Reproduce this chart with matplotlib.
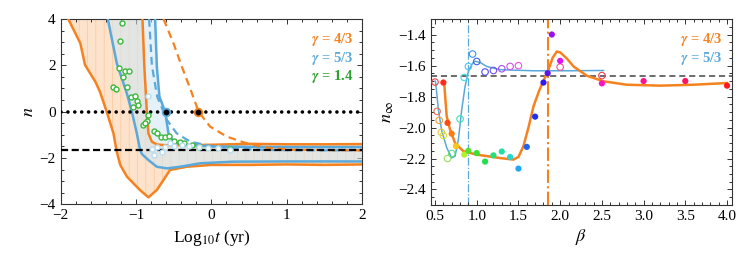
import matplotlib
matplotlib.use("Agg")
import matplotlib.pyplot as plt
import numpy as np
from matplotlib.ticker import MultipleLocator

plt.rcParams['font.family'] = 'serif'
plt.rcParams['font.serif'] = ['Liberation Serif', 'DejaVu Serif']
plt.rcParams['mathtext.fontset'] = 'stix'
plt.rcParams['hatch.linewidth'] = 0.45

ORANGE = '#f5821f'
BLUE = '#5aa9da'
GREEN = '#2ca02c'

# ---------------- left panel data: n vs log10 t ----------------
ora_lo_x = [-1.90, -1.74, -1.677, -1.54, -1.48, -1.39, -1.30, -1.256, -1.21, -1.12, -0.95, -0.836, -0.724, -0.636, -0.55, -0.33, 0.0, 0.5, 1.0, 1.5, 2.0]
ora_lo_y = [4.0, 2.95, 2.01, 1.29, 0.86, 0.0, -0.94, -1.73, -2.30, -2.81, -3.38, -3.70, -3.38, -2.95, -2.52, -2.38, -2.30, -2.30, -2.28, -2.30, -2.28]
ora_up_x = [-0.915, -0.89, -0.857, -0.836, -0.79, -0.72, -0.60, -0.30, 0.0, 0.5, 1.0, 1.5, 2.0]
ora_up_y = [4.0, 1.94, 0.0, -0.94, -1.30, -1.42, -1.45, -1.44, -1.43, -1.39, -1.41, -1.41, -1.40]

blue_lo_x = [-1.375, -1.256, -1.123, -1.056, -0.99, -0.946, -0.923, -0.836, -0.724, -0.59, -0.415, -0.15, 0.29, 1.0, 2.0]
blue_lo_y = [4.0, 2.09, 0.79, 0.0, -0.94, -1.66, -1.83, -2.09, -2.38, -2.45, -2.38, -2.23, -2.16, -2.15, -2.15]
blue_up_x = [-0.747, -0.724, -0.69, -0.614, -0.57, -0.50, -0.34, 0.0, 0.5, 1.0, 2.0]
blue_up_y = [4.0, 1.94, 0.65, 0.0, -0.94, -1.30, -1.44, -1.50, -1.52, -1.53, -1.53]

blue_dash_x = [-0.827, -0.79, -0.72, -0.59, -0.46, -0.28, 0.03, 0.515, 0.85, 1.3, 2.0]
blue_dash_y = [4.0, 2.0, 0.65, -0.36, -0.94, -1.30, -1.51, -1.63, -1.66, -1.67, -1.67]
ora_dash_x = [-0.636, -0.503, -0.392, -0.282, -0.17, -0.016, 0.206, 0.47, 0.74, 1.05, 1.5, 2.0]
ora_dash_y = [4.0, 2.95, 1.94, 1.0, 0.0, -0.65, -1.08, -1.37, -1.56, -1.64, -1.66, -1.67]

green_t = [-1.19, -1.21, -1.23, -1.15, -1.09, -1.17, -1.115, -1.31, -1.27, -1.066, -1.01, -0.99, -1.035,
           -0.97, -0.84, -0.857, -0.91, -0.88, -0.76, -0.72, -0.67, -0.61, -0.557, -0.50, -0.42, -0.36,
           -0.26, -0.158, 0.25]
green_n = [3.81, 3.05, 1.87, 1.77, 1.77, 1.48, 1.08, 1.05, 0.99, 0.62, 0.69, 0.46, 0.19,
           0.29, -0.14, -0.39, -0.58, -0.49, -0.84, -0.91, -1.09, -1.09, -1.05, -1.25, -1.32, -1.37,
           -1.45, -1.51, -1.60]
white_t = [-0.836, -0.79, -0.76, -0.725, -0.66, -0.61, -0.55, -0.49, -0.39, -0.30, -0.16, -0.04, 0.094, 0.25]
white_n = [0.69, -1.60, -1.86, -1.51, -1.73, -1.51, -1.37, -1.47, -1.42, -1.48, -1.51, -1.56, -1.56, -1.66]

crit_t = [-0.60, -0.18]
crit_ring = [BLUE, ORANGE]

# ---------------- right panel data: n_inf vs beta ----------------
beta43 = [0.6, 0.65, 0.7, 0.75, 0.85, 0.9, 1.0, 1.1, 1.2, 1.3, 1.4, 1.5, 1.6, 1.7, 1.8, 1.85, 1.9, 2.0, 2.5, 3.0, 3.5, 4.0]
ninf43 = [-1.71, -1.97, -2.04, -2.12, -2.175, -2.15, -2.165, -2.22, -2.18, -2.155, -2.19, -2.265, -2.125, -1.93, -1.71, -1.65, -1.40, -1.57, -1.715, -1.70, -1.70, -1.73]
col43 = ['#ff2a1a', '#ff4a12', '#ff7a12', '#ffc814', '#b8ee30', '#58e030', '#38e038', '#22e04a', '#22e07a', '#22e0a0',
         '#22d8d0', '#22a8f0', '#2262f0', '#2030f0', '#3018f0', '#5a14f0', '#9a12f0', '#e012f0', '#ff12c0', '#ff1290',
         '#ff1262', '#ff1820']

beta53 = [0.5, 0.525, 0.55, 0.575, 0.6, 0.65, 0.7, 0.8, 0.85, 0.9, 0.95, 1.0, 1.1, 1.2, 1.3, 1.4, 1.5, 2.0, 2.5]
ninf53 = [-1.707, -1.896, -1.954, -2.031, -2.052, -2.20, -2.168, -1.945, -1.677, -1.606, -1.526, -1.574, -1.642, -1.632, -1.621, -1.606, -1.601, -1.61, -1.665]
col53 = ['#f04040', '#f07050', '#f0a040', '#e8c840', '#d8e040', '#98e060', '#60e080', '#40e0b0', '#40e0e0', '#40c8f0',
         '#4090f0', '#4060f0', '#5050f0', '#7050f0', '#a050f0', '#d050f0', '#f050e0', '#f05090', '#f04050']

fit43_b = [0.6, 0.61, 0.64, 0.68, 0.74, 0.84, 1.0, 1.28, 1.44, 1.5, 1.56, 1.62, 1.68, 1.75, 1.8, 1.86, 1.91, 1.96, 2.0, 2.08, 2.16, 2.32, 2.52, 2.8, 3.2, 3.6, 4.0]
fit43_n = [-1.70, -1.717, -1.928, -2.013, -2.10, -2.153, -2.175, -2.197, -2.207, -2.19, -2.12, -2.0, -1.864, -1.76, -1.70, -1.627, -1.55, -1.51, -1.515, -1.555, -1.606, -1.666, -1.702, -1.724, -1.73, -1.724, -1.713]
fit53_b = [0.5, 0.508, 0.54, 0.58, 0.64, 0.70, 0.74, 0.78, 0.82, 0.86, 0.90, 0.95, 0.98, 1.04, 1.12, 1.28, 1.68, 2.1, 2.52]
fit53_n = [-1.70, -1.71, -1.885, -2.02, -2.13, -2.196, -2.185, -2.078, -1.885, -1.735, -1.638, -1.585, -1.572, -1.58, -1.606, -1.627, -1.634, -1.634, -1.632]

beta_crit = [0.9, 1.85]

fig = plt.figure(figsize=(7.47, 2.59), dpi=100)
ax1 = fig.add_axes([0.0813, 0.2112, 0.4034, 0.7155])
ax2 = fig.add_axes([0.577, 0.2085, 0.4025, 0.7181])

# ---- left ----
poly_x = ora_lo_x + ora_up_x[::-1]
poly_y = ora_lo_y + ora_up_y[::-1]
ax1.fill(poly_x, poly_y, facecolor='#fde3cb', edgecolor='#fbc596', linewidth=0, hatch='||', zorder=1)
bpoly_x = blue_lo_x + blue_up_x[::-1]
bpoly_y = blue_lo_y + blue_up_y[::-1]
ax1.fill(bpoly_x, bpoly_y, facecolor='#cfe7f5', alpha=0.55, linewidth=0, zorder=2)

ax1.plot(ora_lo_x, ora_lo_y, color=ORANGE, lw=1.8, zorder=3)
ax1.plot(ora_up_x, ora_up_y, color=ORANGE, lw=1.8, zorder=3)
ax1.plot(blue_lo_x, blue_lo_y, color=BLUE, lw=1.8, zorder=3)
ax1.plot(blue_up_x, blue_up_y, color=BLUE, lw=1.8, zorder=3)
ax1.plot(blue_dash_x, blue_dash_y, color=BLUE, lw=1.6, ls=(0, (3.5, 2.2)), zorder=3)
ax1.plot(ora_dash_x, ora_dash_y, color=ORANGE, lw=1.6, ls=(0, (3.5, 2.2)), zorder=3)

ax1.axhline(0, color='black', lw=2.6, ls=(0, (0.01, 1.9)), dash_capstyle='round', zorder=4)
ax1.axhline(-5 / 3, color='black', lw=1.6, ls=(0, (3.2, 1.6)), zorder=4)

ax1.plot(green_t, green_n, 'o', ms=3.6, mfc='white', mec='#3cb83c', mew=1.0, zorder=5)
ax1.plot(white_t, white_n, 'o', ms=3.6, mfc='white', mec='#b8dcf0', mew=1.0, zorder=5)
for t, c in zip(crit_t, crit_ring):
    ax1.plot(t, 0, 'o', ms=5.5, mfc='black', mec=c, mew=1.3, zorder=6)

ax1.set_xlim(-2, 2)
ax1.set_ylim(-4, 4)
ax1.xaxis.set_major_locator(MultipleLocator(1))
ax1.xaxis.set_minor_locator(MultipleLocator(0.2))
ax1.yaxis.set_major_locator(MultipleLocator(2))
ax1.yaxis.set_minor_locator(MultipleLocator(0.5))
ax1.set_xlabel(r'Log$_{10}t$ (yr)', fontsize=12.5, labelpad=4)
ax1.set_ylabel(r'$n$', fontsize=13, labelpad=2)

ax1.text(0.97, 0.87, r'$\boldsymbol{\gamma}$ = 4/3', transform=ax1.transAxes, ha='right', color=ORANGE, fontsize=10.5, fontweight='bold')
ax1.text(0.97, 0.77, r'$\boldsymbol{\gamma}$ = 5/3', transform=ax1.transAxes, ha='right', color=BLUE, fontsize=10.5, fontweight='bold')
ax1.text(0.97, 0.67, r'$\boldsymbol{\gamma}$ = 1.4', transform=ax1.transAxes, ha='right', color=GREEN, fontsize=10.5, fontweight='bold')

# ---- right ----
ax2.axhline(-5 / 3, color='#444444', lw=1.1, ls=(0, (4, 2.5)), zorder=1)
ax2.axvline(beta_crit[0], color=BLUE, lw=0.9, ls='-.', zorder=1)
ax2.axvline(beta_crit[1], color=ORANGE, lw=1.5, ls='-.', zorder=1)
ax2.plot(fit53_b, fit53_n, color=BLUE, lw=1.1, zorder=2)
ax2.plot(fit43_b, fit43_n, color=ORANGE, lw=1.8, zorder=2)
ax2.scatter(beta53, ninf53, s=22, facecolors='none', edgecolors=col53, linewidths=0.8, zorder=3)
ax2.scatter(beta43, ninf43, s=20, c=col43, edgecolors='none', zorder=4)

ax2.set_xlim(0.452, 4.056)
ax2.set_ylim(-2.5, -1.3)
ax2.xaxis.set_major_locator(MultipleLocator(0.5))
ax2.xaxis.set_minor_locator(MultipleLocator(0.1))
ax2.yaxis.set_major_locator(MultipleLocator(0.2))
ax2.yaxis.set_minor_locator(MultipleLocator(0.05))
ax2.set_xlabel(r'$\beta$', fontsize=13, labelpad=3)
ax2.set_ylabel(r'$n_\infty$', fontsize=13, labelpad=2)

ax2.text(0.97, 0.87, r'$\boldsymbol{\gamma}$ = 4/3', transform=ax2.transAxes, ha='right', color=ORANGE, fontsize=10.5, fontweight='bold')
ax2.text(0.97, 0.77, r'$\boldsymbol{\gamma}$ = 5/3', transform=ax2.transAxes, ha='right', color=BLUE, fontsize=10.5, fontweight='bold')

for ax in (ax1, ax2):
    ax.tick_params(which='both', direction='in', top=True, right=True, labelsize=11, width=0.7, color='#333333')
    ax.tick_params(which='major', length=3.5)
    ax.tick_params(which='minor', length=2)
    for sp in ax.spines.values():
        sp.set_linewidth(0.8)
        sp.set_color('#333333')

fig.savefig('out.png', dpi=100)
